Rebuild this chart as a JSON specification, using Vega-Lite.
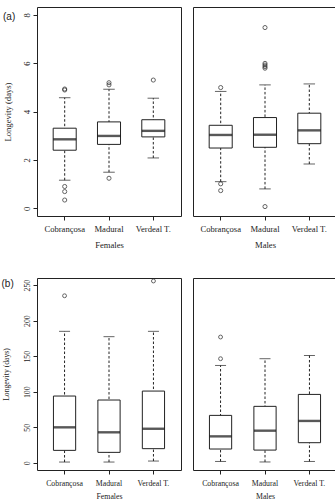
{
  "$schema": "https://vega.github.io/schema/vega-lite/v6.json",
  "background": "white",
  "padding": {"left": 1, "top": 6, "right": 0, "bottom": 0},
  "data": {
    "values": [
      {"panel": "a", "sex": "Females", "cultivar": "Cobrançosa", "lo": 1.16, "q1": 2.40, "med": 2.85, "q3": 3.31, "hi": 4.57},
      {"panel": "a", "sex": "Females", "cultivar": "Madural", "lo": 1.49, "q1": 2.64, "med": 2.99, "q3": 3.57, "hi": 4.92},
      {"panel": "a", "sex": "Females", "cultivar": "Verdeal T.", "lo": 2.08, "q1": 2.95, "med": 3.20, "q3": 3.66, "hi": 4.55},
      {"panel": "a", "sex": "Males", "cultivar": "Cobrançosa", "lo": 1.10, "q1": 2.49, "med": 3.03, "q3": 3.43, "hi": 4.83},
      {"panel": "a", "sex": "Males", "cultivar": "Madural", "lo": 0.80, "q1": 2.52, "med": 3.04, "q3": 3.75, "hi": 5.10},
      {"panel": "a", "sex": "Males", "cultivar": "Verdeal T.", "lo": 1.83, "q1": 2.67, "med": 3.22, "q3": 3.93, "hi": 5.14},
      {"panel": "a", "sex": "Females", "cultivar": "Cobrançosa", "out": 4.93},
      {"panel": "a", "sex": "Females", "cultivar": "Cobrançosa", "out": 4.89},
      {"panel": "a", "sex": "Females", "cultivar": "Cobrançosa", "out": 0.90},
      {"panel": "a", "sex": "Females", "cultivar": "Cobrançosa", "out": 0.69},
      {"panel": "a", "sex": "Females", "cultivar": "Cobrançosa", "out": 0.34},
      {"panel": "a", "sex": "Females", "cultivar": "Madural", "out": 5.19},
      {"panel": "a", "sex": "Females", "cultivar": "Madural", "out": 5.10},
      {"panel": "a", "sex": "Females", "cultivar": "Madural", "out": 1.24},
      {"panel": "a", "sex": "Females", "cultivar": "Verdeal T.", "out": 5.30},
      {"panel": "a", "sex": "Males", "cultivar": "Cobrançosa", "out": 4.99},
      {"panel": "a", "sex": "Males", "cultivar": "Cobrançosa", "out": 1.01},
      {"panel": "a", "sex": "Males", "cultivar": "Cobrançosa", "out": 0.73},
      {"panel": "a", "sex": "Males", "cultivar": "Madural", "out": 7.47},
      {"panel": "a", "sex": "Males", "cultivar": "Madural", "out": 5.99},
      {"panel": "a", "sex": "Males", "cultivar": "Madural", "out": 5.92},
      {"panel": "a", "sex": "Males", "cultivar": "Madural", "out": 5.85},
      {"panel": "a", "sex": "Males", "cultivar": "Madural", "out": 5.79},
      {"panel": "a", "sex": "Males", "cultivar": "Madural", "out": 0.07},
      {"panel": "b", "sex": "Females", "cultivar": "Cobrançosa", "lo": 1.2, "q1": 17.6, "med": 50, "q3": 94, "hi": 185},
      {"panel": "b", "sex": "Females", "cultivar": "Madural", "lo": 1.2, "q1": 14.8, "med": 43, "q3": 88.4, "hi": 177.5},
      {"panel": "b", "sex": "Females", "cultivar": "Verdeal T.", "lo": 2.6, "q1": 20, "med": 48, "q3": 101, "hi": 185},
      {"panel": "b", "sex": "Males", "cultivar": "Cobrançosa", "lo": 2, "q1": 19.5, "med": 37.3, "q3": 66.8, "hi": 137},
      {"panel": "b", "sex": "Males", "cultivar": "Madural", "lo": 1.3, "q1": 18, "med": 45.3, "q3": 79.5, "hi": 146.5},
      {"panel": "b", "sex": "Males", "cultivar": "Verdeal T.", "lo": 2, "q1": 28.4, "med": 59, "q3": 96.3, "hi": 151},
      {"panel": "b", "sex": "Females", "cultivar": "Cobrançosa", "out": 235},
      {"panel": "b", "sex": "Females", "cultivar": "Verdeal T.", "out": 255.8},
      {"panel": "b", "sex": "Males", "cultivar": "Cobrançosa", "out": 177},
      {"panel": "b", "sex": "Males", "cultivar": "Cobrançosa", "out": 146.5}
    ]
  },
  "spacing": 26,
  "vconcat": [
    {
      "title": {"text": "(a)", "anchor": "start", "frame": "bounds", "offset": -15},
      "spacing": 10,
      "hconcat": [
        {
          "width": 144, "height": 209,
          "transform": [{"filter": "datum.panel == 'a' && datum.sex == 'Females'"}],
          "encoding": {
            "x": {"field": "cultivar", "type": "nominal", "title": "Females", "sort": ["Cobrançosa", "Madural", "Verdeal T."],
              "scale": {"paddingInner": 0.48, "paddingOuter": 0.365},
              "axis": {"labelAngle": 0, "labelFontSize": 8.6, "labelPadding": 4, "titleFontSize": 8.6, "titlePadding": 8}}
          },
          "layer": [
            {"transform": [{"filter": "isValid(datum.med)"}],
             "mark": {"type": "rule", "color": "#222", "strokeWidth": 1, "strokeDash": [2.5, 2]},
             "encoding": {"y": {"field": "lo", "type": "quantitative", "title": "Longevity (days)",
                 "scale": {"domain": [-0.32, 8.32], "nice": false, "zero": false},
                 "axis": {"values": [0, 2, 4, 6, 8], "labelFontSize": 8.6, "titleFontSize": 8.6, "titlePadding": 9.5}},
               "y2": {"field": "hi"}}},
            {"transform": [{"filter": "isValid(datum.med)"}],
             "mark": {"type": "tick", "color": "#222", "size": 11.5, "thickness": 1},
             "encoding": {"y": {"field": "lo", "type": "quantitative", "title": "Longevity (days)",
                 "axis": {"values": [0, 2, 4, 6, 8], "labelFontSize": 8.6, "titleFontSize": 8.6, "titlePadding": 9.5}}}},
            {"transform": [{"filter": "isValid(datum.med)"}],
             "mark": {"type": "tick", "color": "#222", "size": 11.5, "thickness": 1},
             "encoding": {"y": {"field": "hi", "type": "quantitative", "title": "Longevity (days)",
                 "axis": {"values": [0, 2, 4, 6, 8], "labelFontSize": 8.6, "titleFontSize": 8.6, "titlePadding": 9.5}}}},
            {"transform": [{"filter": "isValid(datum.med)"}],
             "mark": {"type": "bar", "fill": "white", "stroke": "#222", "strokeWidth": 1},
             "encoding": {"y": {"field": "q1", "type": "quantitative", "title": "Longevity (days)",
                 "axis": {"values": [0, 2, 4, 6, 8], "labelFontSize": 8.6, "titleFontSize": 8.6, "titlePadding": 9.5}},
               "y2": {"field": "q3"}}},
            {"transform": [{"filter": "isValid(datum.med)"}],
             "mark": {"type": "tick", "color": "#111", "size": 23, "thickness": 2.4},
             "encoding": {"y": {"field": "med", "type": "quantitative", "title": "Longevity (days)",
                 "axis": {"values": [0, 2, 4, 6, 8], "labelFontSize": 8.6, "titleFontSize": 8.6, "titlePadding": 9.5}}}},
            {"transform": [{"filter": "isValid(datum.out)"}],
             "mark": {"type": "point", "shape": "circle", "filled": false, "color": "#222", "size": 17, "strokeWidth": 1},
             "encoding": {"y": {"field": "out", "type": "quantitative", "title": "Longevity (days)",
                 "axis": {"values": [0, 2, 4, 6, 8], "labelFontSize": 8.6, "titleFontSize": 8.6, "titlePadding": 9.5}}}}
          ]
        },
        {
          "width": 144, "height": 209,
          "transform": [{"filter": "datum.panel == 'a' && datum.sex == 'Males'"}],
          "encoding": {
            "x": {"field": "cultivar", "type": "nominal", "title": "Males", "sort": ["Cobrançosa", "Madural", "Verdeal T."],
              "scale": {"paddingInner": 0.48, "paddingOuter": 0.365},
              "axis": {"labelAngle": 0, "labelFontSize": 8.6, "labelPadding": 4, "titleFontSize": 8.6, "titlePadding": 8}}
          },
          "layer": [
            {"transform": [{"filter": "isValid(datum.med)"}],
             "mark": {"type": "rule", "color": "#222", "strokeWidth": 1, "strokeDash": [2.5, 2]},
             "encoding": {"y": {"field": "lo", "type": "quantitative", "axis": null,
                 "scale": {"domain": [-0.32, 8.32], "nice": false, "zero": false}},
               "y2": {"field": "hi"}}},
            {"transform": [{"filter": "isValid(datum.med)"}],
             "mark": {"type": "tick", "color": "#222", "size": 11.5, "thickness": 1},
             "encoding": {"y": {"field": "lo", "type": "quantitative", "axis": null}}},
            {"transform": [{"filter": "isValid(datum.med)"}],
             "mark": {"type": "tick", "color": "#222", "size": 11.5, "thickness": 1},
             "encoding": {"y": {"field": "hi", "type": "quantitative", "axis": null}}},
            {"transform": [{"filter": "isValid(datum.med)"}],
             "mark": {"type": "bar", "fill": "white", "stroke": "#222", "strokeWidth": 1},
             "encoding": {"y": {"field": "q1", "type": "quantitative", "axis": null}, "y2": {"field": "q3"}}},
            {"transform": [{"filter": "isValid(datum.med)"}],
             "mark": {"type": "tick", "color": "#111", "size": 23, "thickness": 2.4},
             "encoding": {"y": {"field": "med", "type": "quantitative", "axis": null}}},
            {"transform": [{"filter": "isValid(datum.out)"}],
             "mark": {"type": "point", "shape": "circle", "filled": false, "color": "#222", "size": 17, "strokeWidth": 1},
             "encoding": {"y": {"field": "out", "type": "quantitative", "axis": null}}}
          ]
        }
      ]
    },
    {
      "title": {"text": "(b)", "anchor": "start", "frame": "bounds", "offset": -12},
      "spacing": 10,
      "hconcat": [
        {
          "width": 144, "height": 192,
          "transform": [{"filter": "datum.panel == 'b' && datum.sex == 'Females'"}],
          "encoding": {
            "x": {"field": "cultivar", "type": "nominal", "title": "Females", "sort": ["Cobrançosa", "Madural", "Verdeal T."],
              "scale": {"paddingInner": 0.5, "paddingOuter": 0.37},
              "axis": {"labelAngle": 0, "labelFontSize": 7.8, "labelPadding": 5.8, "titleFontSize": 7.8, "titlePadding": 4.5}}
          },
          "layer": [
            {"transform": [{"filter": "isValid(datum.med)"}],
             "mark": {"type": "rule", "color": "#222", "strokeWidth": 1, "strokeDash": [2.5, 2]},
             "encoding": {"y": {"field": "lo", "type": "quantitative", "title": "Longevity (days)",
                 "scale": {"domain": [-10, 260], "nice": false, "zero": false},
                 "axis": {"values": [0, 50, 100, 150, 200, 250], "labelFontSize": 7.8, "titleFontSize": 7.7, "titlePadding": 13}},
               "y2": {"field": "hi"}}},
            {"transform": [{"filter": "isValid(datum.med)"}],
             "mark": {"type": "tick", "color": "#222", "size": 11, "thickness": 1},
             "encoding": {"y": {"field": "lo", "type": "quantitative", "title": "Longevity (days)",
                 "axis": {"values": [0, 50, 100, 150, 200, 250], "labelFontSize": 7.8, "titleFontSize": 7.7, "titlePadding": 13}}}},
            {"transform": [{"filter": "isValid(datum.med)"}],
             "mark": {"type": "tick", "color": "#222", "size": 11, "thickness": 1},
             "encoding": {"y": {"field": "hi", "type": "quantitative", "title": "Longevity (days)",
                 "axis": {"values": [0, 50, 100, 150, 200, 250], "labelFontSize": 7.8, "titleFontSize": 7.7, "titlePadding": 13}}}},
            {"transform": [{"filter": "isValid(datum.med)"}],
             "mark": {"type": "bar", "fill": "white", "stroke": "#222", "strokeWidth": 1},
             "encoding": {"y": {"field": "q1", "type": "quantitative", "title": "Longevity (days)",
                 "axis": {"values": [0, 50, 100, 150, 200, 250], "labelFontSize": 7.8, "titleFontSize": 7.7, "titlePadding": 13}},
               "y2": {"field": "q3"}}},
            {"transform": [{"filter": "isValid(datum.med)"}],
             "mark": {"type": "tick", "color": "#111", "size": 22, "thickness": 2.4},
             "encoding": {"y": {"field": "med", "type": "quantitative", "title": "Longevity (days)",
                 "axis": {"values": [0, 50, 100, 150, 200, 250], "labelFontSize": 7.8, "titleFontSize": 7.7, "titlePadding": 13}}}},
            {"transform": [{"filter": "isValid(datum.out)"}],
             "mark": {"type": "point", "shape": "circle", "filled": false, "color": "#222", "size": 15, "strokeWidth": 1},
             "encoding": {"y": {"field": "out", "type": "quantitative", "title": "Longevity (days)",
                 "axis": {"values": [0, 50, 100, 150, 200, 250], "labelFontSize": 7.8, "titleFontSize": 7.7, "titlePadding": 13}}}}
          ]
        },
        {
          "width": 144, "height": 192,
          "transform": [{"filter": "datum.panel == 'b' && datum.sex == 'Males'"}],
          "encoding": {
            "x": {"field": "cultivar", "type": "nominal", "title": "Males", "sort": ["Cobrançosa", "Madural", "Verdeal T."],
              "scale": {"paddingInner": 0.5, "paddingOuter": 0.37},
              "axis": {"labelAngle": 0, "labelFontSize": 7.8, "labelPadding": 5.8, "titleFontSize": 7.8, "titlePadding": 4.5}}
          },
          "layer": [
            {"transform": [{"filter": "isValid(datum.med)"}],
             "mark": {"type": "rule", "color": "#222", "strokeWidth": 1, "strokeDash": [2.5, 2]},
             "encoding": {"y": {"field": "lo", "type": "quantitative", "axis": null,
                 "scale": {"domain": [-10, 260], "nice": false, "zero": false}},
               "y2": {"field": "hi"}}},
            {"transform": [{"filter": "isValid(datum.med)"}],
             "mark": {"type": "tick", "color": "#222", "size": 11, "thickness": 1},
             "encoding": {"y": {"field": "lo", "type": "quantitative", "axis": null}}},
            {"transform": [{"filter": "isValid(datum.med)"}],
             "mark": {"type": "tick", "color": "#222", "size": 11, "thickness": 1},
             "encoding": {"y": {"field": "hi", "type": "quantitative", "axis": null}}},
            {"transform": [{"filter": "isValid(datum.med)"}],
             "mark": {"type": "bar", "fill": "white", "stroke": "#222", "strokeWidth": 1},
             "encoding": {"y": {"field": "q1", "type": "quantitative", "axis": null}, "y2": {"field": "q3"}}},
            {"transform": [{"filter": "isValid(datum.med)"}],
             "mark": {"type": "tick", "color": "#111", "size": 22, "thickness": 2.4},
             "encoding": {"y": {"field": "med", "type": "quantitative", "axis": null}}},
            {"transform": [{"filter": "isValid(datum.out)"}],
             "mark": {"type": "point", "shape": "circle", "filled": false, "color": "#222", "size": 15, "strokeWidth": 1},
             "encoding": {"y": {"field": "out", "type": "quantitative", "axis": null}}}
          ]
        }
      ]
    }
  ],
  "config": {
    "font": "Liberation Serif",
    "view": {"stroke": "#222", "strokeWidth": 1},
    "axis": {
      "labelFont": "Liberation Serif", "titleFont": "Liberation Serif",
      "labelColor": "#222", "titleColor": "#222", "tickColor": "#222",
      "titleFontWeight": "normal", "grid": false, "domain": false, "tickSize": 4
    },
    "axisY": {"labelAngle": -90, "labelPadding": 2, "labelOverlap": false, "labelAlign": "center", "labelBaseline": "bottom"},
    "title": {"font": "Liberation Sans", "fontSize": 10, "fontWeight": "normal", "color": "#222"}
  }
}
